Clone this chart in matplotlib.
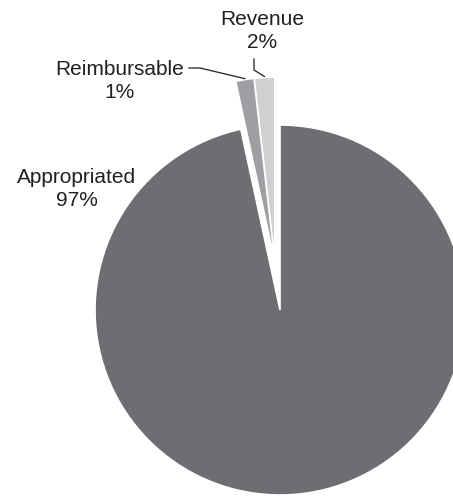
import numpy as np
import matplotlib
matplotlib.use('Agg')
import matplotlib.pyplot as plt

# values (wedge sizes), labels as printed
names = ['Revenue', 'Reimbursable', 'Appropriated']
shares = [1.8, 1.6, 96.6]
pct_labels = ['2%', '1%', '97%']
colors = ['#cfd0d2', '#9d9fa2', '#6d6e71']

W, H = 453, 496
R = 185
CX, CY = 280, 186

fig = plt.figure(figsize=(W / 100, H / 100), dpi=100)
ax = fig.add_axes([0, 0, 1, 1])

plt.rcParams['font.family'] = ['Liberation Sans', 'DejaVu Sans']

wedges, _ = ax.pie(shares, colors=colors, startangle=90,
                   counterclock=True, center=(CX, CY), radius=R,
                   wedgeprops=dict(edgecolor='white', linewidth=1.2),
                   frame=True)
ax.set_xlim(0, W)
ax.set_ylim(0, H)
ax.set_aspect('equal')
ax.axis('off')

# pull the two small slices out together, along their common mid-angle
mid = np.deg2rad((wedges[0].theta1 + wedges[1].theta2) / 2)
off = 0.26 * R
for w in wedges[:2]:
    w.set_center((CX + off * np.cos(mid), CY + off * np.sin(mid)))


def top_point(w):
    m = np.deg2rad((w.theta1 + w.theta2) / 2)
    cx, cy = w.center
    return cx + w.r * np.cos(m), cy + w.r * np.sin(m)


fs = 15
txt = dict(ha='center', va='center', fontsize=fs, color='#231f20',
           linespacing=1.3)

# Revenue label and leader
ax.text(262, H - 31, f'{names[0]}\n{pct_labels[0]}', **txt)
rx, ry = top_point(wedges[0])
ax.plot([254, 254, rx], [H - 59, H - 70, ry + 1], color='#231f20', lw=0.9)

# Reimbursable label and leader
ax.text(120, H - 81, f'{names[1]}\n{pct_labels[1]}', **txt)
bx, by = top_point(wedges[1])
ax.plot([189, 200, bx], [H - 68, H - 68, by + 1], color='#231f20', lw=0.9)

# Appropriated label
ax.text(77, H - 189, f'{names[2]}\n{pct_labels[2]}', **txt)

fig.savefig('out.png', dpi=100)
